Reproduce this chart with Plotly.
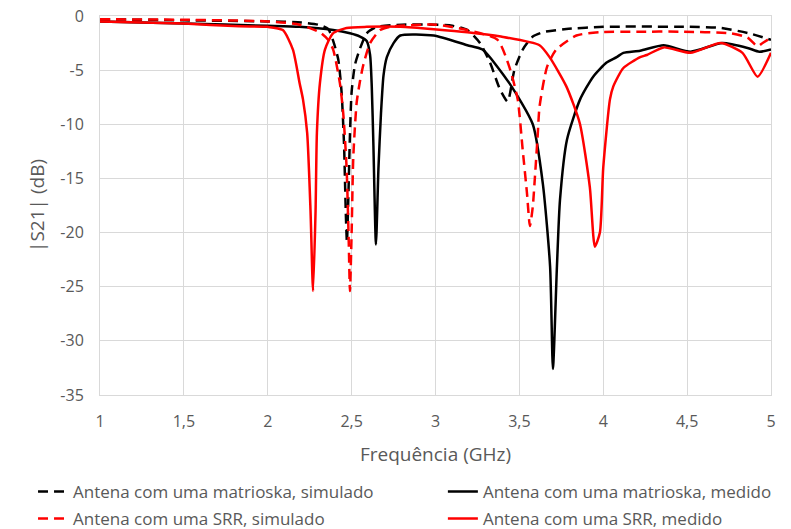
import plotly.graph_objects as go

# |S21| (dB) against frequency (GHz)
freq_mat_sim = [1.0, 1.5, 2.0, 2.2, 2.30, 2.36, 2.39, 2.42, 2.44, 2.455, 2.465, 2.472, 2.48, 2.49,
                2.50, 2.52, 2.55, 2.59, 2.65, 2.8, 3.0, 3.1, 3.19, 3.265, 3.325, 3.385, 3.43, 3.47,
                3.52, 3.58, 3.64, 3.78, 4.0, 4.5, 4.7, 4.87, 5.0]
s21_mat_sim = [-0.3, -0.4, -0.5, -0.6, -0.8, -1.2, -2.3, -4.0, -7.0, -12.0, -18.0, -20.9, -17.0, -11.0,
               -7.0, -4.5, -3.0, -1.6, -1.0, -0.8, -0.8, -0.9, -1.3, -2.5, -4.3, -6.8, -7.9, -5.0,
               -3.1, -1.9, -1.5, -1.2, -1.0, -1.0, -1.1, -1.6, -2.2]

freq_mat_med = [1.0, 1.5, 2.0, 2.19, 2.39, 2.49, 2.55, 2.59, 2.61, 2.62, 2.63, 2.645, 2.66, 2.675,
                2.69, 2.71, 2.75, 2.79, 2.99, 3.19, 3.28, 3.44, 3.58, 3.64, 3.683, 3.70, 3.724,
                3.742, 3.784, 3.862, 3.94, 4.02, 4.08, 4.12, 4.22, 4.36, 4.52, 4.71, 4.86, 4.93, 5.0]
s21_mat_med = [-0.5, -0.7, -0.9, -1.0, -1.3, -1.6, -1.9, -2.3, -3.6, -6.5, -12.0, -21.1, -14.0, -9.0,
               -5.5, -3.8, -2.5, -1.8, -1.8, -2.7, -3.1, -6.2, -10.0, -15.5, -23.1, -32.6, -23.1,
               -17.0, -11.4, -7.7, -5.6, -4.3, -3.8, -3.4, -3.2, -2.7, -3.3, -2.5, -2.95, -3.3, -3.1]

freq_srr_sim = [1.0, 1.5, 2.0, 2.19, 2.31, 2.36, 2.39, 2.43, 2.45, 2.47, 2.483, 2.49, 2.50, 2.51,
                2.53, 2.55, 2.57, 2.61, 2.67, 2.73, 3.0, 3.19, 3.37, 3.44, 3.49, 3.52, 3.545, 3.563,
                3.58, 3.593, 3.61, 3.62, 3.665, 3.72, 3.84, 3.98, 4.2, 4.46, 4.76, 4.86, 4.92, 4.95, 5.0]
s21_srr_sim = [-0.3, -0.35, -0.5, -0.8, -1.5, -2.2, -3.1, -6.2, -9.0, -14.0, -21.0, -25.4, -20.0, -13.0,
               -8.0, -6.0, -4.5, -2.5, -1.3, -1.0, -0.8, -1.3, -2.2, -4.7, -7.7, -12.4, -16.3, -19.4,
               -17.6, -14.8, -10.8, -8.4, -4.7, -3.1, -1.8, -1.5, -1.45, -1.45, -1.6, -2.0, -2.8, -2.5, -2.0]

freq_srr_med = [1.0, 1.5, 1.83, 2.0, 2.09, 2.15, 2.19, 2.21, 2.235, 2.255, 2.27, 2.285, 2.293, 2.311,
                2.341, 2.389, 2.47, 2.59, 2.79, 3.19, 3.39, 3.62, 3.68, 3.78, 3.86, 3.92, 3.95, 3.98,
                4.00, 4.04, 4.06, 4.12, 4.22, 4.26, 4.36, 4.52, 4.70, 4.83, 4.92, 5.0]
s21_srr_med = [-0.5, -0.7, -0.95, -1.0, -1.3, -3.1, -6.2, -7.7, -10.8, -18.0, -25.4, -18.0, -10.8, -6.2,
               -3.1, -1.6, -1.1, -1.0, -1.0, -1.5, -1.9, -2.7, -3.8, -6.5, -9.9, -15.8, -21.3, -20.0,
               -14.0, -7.7, -6.5, -4.8, -3.8, -3.6, -2.9, -3.4, -2.5, -3.4, -5.6, -3.4]

x_ticks = [1, 1.5, 2, 2.5, 3, 3.5, 4, 4.5, 5]
x_labels = ["1", "1,5", "2", "2,5", "3", "3,5", "4", "4,5", "5"]
y_ticks = [0, -5, -10, -15, -20, -25, -30, -35]
y_labels = ["0", "-5", "-10", "-15", "-20", "-25", "-30", "-35"]

GRID = "#d9d9d9"
TEXT = "#595959"
FONT = "Open Sans, Liberation Sans, sans-serif"
DASH = "10px,6px"

fig = go.Figure()
series = [
    ("Antena com uma matrioska, simulado", freq_mat_sim, s21_mat_sim, "black", DASH, "legend"),
    ("Antena com uma matrioska, medido", freq_mat_med, s21_mat_med, "black", "solid", "legend2"),
    ("Antena com uma SRR, simulado", freq_srr_sim, s21_srr_sim, "#ff0000", DASH, "legend"),
    ("Antena com uma SRR, medido", freq_srr_med, s21_srr_med, "#ff0000", "solid", "legend2"),
]
for name, xs, ys, color, dash, leg in series:
    fig.add_scatter(x=xs, y=ys, name=name, mode="lines", legend=leg, legendgroup=name,
                    line=dict(color=color, width=2.5, dash=dash, shape="spline", smoothing=0.6))

fig.update_xaxes(range=[1, 5], tickvals=x_ticks, ticktext=x_labels, showgrid=True, gridcolor=GRID,
                 showline=True, mirror=True, linecolor=GRID, zeroline=False, ticks="",
                 automargin=False, ticklabelstandoff=12, ticklabeloverflow="allow",
                 tickfont=dict(size=16, color=TEXT),
                 title=dict(text="Frequência (GHz)", font=dict(size=19, color=TEXT), standoff=16))
fig.update_yaxes(range=[-35, 0], tickvals=y_ticks, ticktext=y_labels, showgrid=True, gridcolor=GRID,
                 showline=True, mirror=True, linecolor=GRID, zeroline=False, ticks="",
                 automargin=False, ticklabelstandoff=12, ticklabeloverflow="allow",
                 tickfont=dict(size=16, color=TEXT),
                 title=dict(text="|S21| (dB)", font=dict(size=19, color=TEXT), standoff=10))

# page body adds an 8px offset, so the canvas is shifted back by the margins
legend_style = dict(orientation="v", yanchor="top", y=-0.208, xanchor="left",
                    font=dict(size=17, color=TEXT), tracegroupgap=2, traceorder="grouped",
                    bgcolor="rgba(0,0,0,0)")
fig.update_layout(
    width=791, height=545, margin=dict(l=92, r=28, t=8, b=158),
    paper_bgcolor="white", plot_bgcolor="white",
    font=dict(family=FONT, color=TEXT, size=16),
    legend=dict(x=-0.0998, **legend_style),
    legend2=dict(x=0.511, **legend_style),
)
fig.write_html("out.html")
